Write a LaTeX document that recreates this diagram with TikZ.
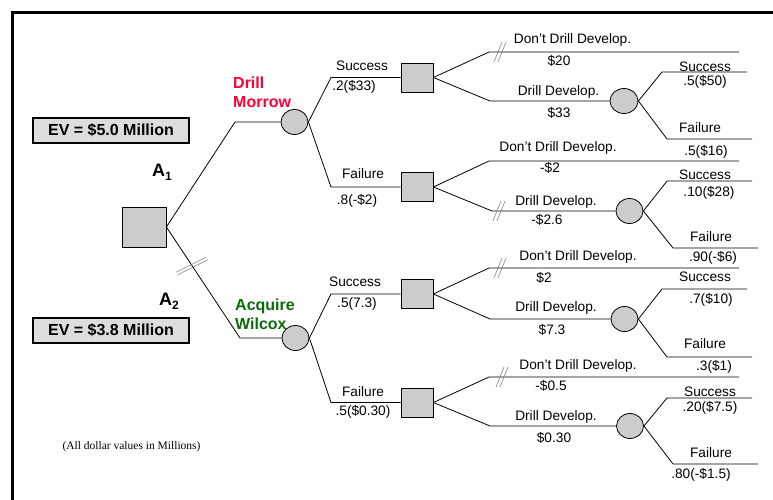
\documentclass[tikz,border=0pt]{standalone}
\usepackage{fontspec}
\setmainfont{Liberation Sans}
\newfontfamily\notefont{Liberation Serif}
\usetikzlibrary{shapes.geometric}
\definecolor{nodegray}{HTML}{CCCCCC}
\definecolor{boxgray}{HTML}{DDDDDD}
\definecolor{drillred}{HTML}{FF0033}
\definecolor{acqgreen}{HTML}{0B6B0B}
\begin{document}
\begin{tikzpicture}[x=1pt,y=-1pt,
 dec/.style={draw,fill=nodegray,line width=0.8pt,minimum width=32pt,minimum height=29pt,inner sep=0},
 chance/.style={ellipse,draw,fill=nodegray,line width=0.8pt,minimum width=27pt,minimum height=25pt,inner sep=0},
 br/.style={line width=0.8pt},
 lbl/.style={font=\fontsize{13.7}{15}\selectfont,inner sep=0},
 ev/.style={draw,line width=2pt,fill=boxgray,minimum width=156pt,minimum height=25pt,font=\bfseries\fontsize{16}{18}\selectfont,inner sep=0},
 alt/.style={font=\bfseries\fontsize{16}{19}\selectfont,align=left,inner sep=0},
 anode/.style={font=\bfseries\fontsize{18}{20}\selectfont,inner sep=0},
 brk/.pic={\draw[gray,line width=0.6pt] (-6,10) -- (2,-10) (-2,10) -- (6,-10);}
]
\useasboundingbox (0,0) rectangle (773,500);
% frame
\draw[line width=3.3pt] (12.6,500) -- (12.6,12.3) -- (773,12.3);

% EV boxes and labels
\node[ev] (ev1) at (111,130.5) {EV = \$5.0 Million};
\node[ev] (ev2) at (111,330) {EV = \$3.8 Million};
\node[anode] (a1) at (162,172) {A\raisebox{-0.45ex}{\fontsize{12}{12}\selectfont 1}};
\node[anode] (a2) at (169,301) {A\raisebox{-0.45ex}{\fontsize{12}{12}\selectfont 2}};
\node[alt,text=drillred,anchor=north west] (dm) at (233,77) {Drill\\Morrow};
\node[alt,text=acqgreen,anchor=north west] (aw) at (235,299) {Acquire\\Wilcox};
\node[font=\notefont\fontsize{11.5}{13}\selectfont,inner sep=0] (note) at (131.5,447) {(All dollar values in Millions)};

% nodes
\node[dec,minimum width=44pt,minimum height=40pt] (root) at (144,227) {};
\node[chance] (c1) at (294.5,122) {};
\node[chance] (c2) at (295.5,338) {};
\node[dec] (d1) at (417,77.5) {};
\node[dec] (d2) at (417,187) {};
\node[dec] (d3) at (417,294) {};
\node[dec] (d4) at (417,402.5) {};
\node[chance,minimum width=28pt] (c3) at (624,101) {};
\node[chance] (c4) at (629.5,211) {};
\node[chance] (c5) at (624.5,319) {};
\node[chance] (c6) at (630,426) {};

% elbow and end coordinates
\coordinate (e1) at (235,122);
\coordinate (e2) at (240,338);
\coordinate (s1) at (331,77.5);
\coordinate (f1) at (331,187);
\coordinate (s2) at (331,294);
\coordinate (f2) at (331,402.5);
\coordinate (k1) at (489,52);  \coordinate (t1) at (739,52);
\coordinate (k2) at (490,101);
\coordinate (k3) at (662,72);  \coordinate (t3) at (747,72);
\coordinate (k4) at (667,139); \coordinate (t4) at (752,139);
\coordinate (k5) at (489,161); \coordinate (t5) at (739,161);
\coordinate (k6) at (492,211);
\coordinate (k7) at (667,181); \coordinate (t7) at (752,181);
\coordinate (k8) at (673,248); \coordinate (t8) at (758,248);
\coordinate (k9) at (489,268); \coordinate (t9) at (739,268);
\coordinate (k10) at (490,319);
\coordinate (k11) at (662,289); \coordinate (t11) at (747,289);
\coordinate (k12) at (667,357); \coordinate (t12) at (752,357);
\coordinate (k13) at (489,377); \coordinate (t13) at (739,377);
\coordinate (k14) at (490,426);
\coordinate (k15) at (667,398); \coordinate (t15) at (752,398);
\coordinate (k16) at (673,464); \coordinate (t16) at (758,464);

% connectors
\draw[br] (root.east) -- (e1) -- (c1.west);
\draw[br] (root.east) -- (e2) -- (c2.west);
\draw[br] (c1.east) -- (s1) -- (d1.west);
\draw[br] (c1.east) -- (f1) -- (d2.west);
\draw[br] (c2.east) -- (s2) -- (d3.west);
\draw[br] (c2.east) -- (f2) -- (d4.west);
\draw[br] (d1.east) -- (k1) -- (t1);
\draw[br] (d1.east) -- (k2) -- (c3.west);
\draw[br] (c3.east) -- (k3) -- (t3);
\draw[br] (c3.east) -- (k4) -- (t4);
\draw[br] (d2.east) -- (k5) -- (t5);
\draw[br] (d2.east) -- (k6) -- (c4.west);
\draw[br] (c4.east) -- (k7) -- (t7);
\draw[br] (c4.east) -- (k8) -- (t8);
\draw[br] (d3.east) -- (k9) -- (t9);
\draw[br] (d3.east) -- (k10) -- (c5.west);
\draw[br] (c5.east) -- (k11) -- (t11);
\draw[br] (c5.east) -- (k12) -- (t12);
\draw[br] (d4.east) -- (k13) -- (t13);
\draw[br] (d4.east) -- (k14) -- (c6.west);
\draw[br] (c6.east) -- (k15) -- (t15);
\draw[br] (c6.east) -- (k16) -- (t16);

% pruned-branch marks
\draw[gray,line width=0.6pt] (177.7,274.8) -- (207.7,259.8) (176.3,272.2) -- (206.3,257.2);
\pic at (500,52) {brk};
\pic at (499,211) {brk};
\pic at (500,268) {brk};
\pic at (502,377) {brk};

% labels
\node[lbl] at (362,66) {Success};
\node[lbl] at (354,87) {.2(\$33)};
\node[lbl] at (363,174) {Failure};
\node[lbl] at (357,201) {.8(-\$2)};
\node[lbl] at (355,282) {Success};
\node[lbl] at (357,304) {.5(7.3)};
\node[lbl] at (363,392) {Failure};
\node[lbl] at (363,412) {.5(\$0.30)};

\node[lbl] at (572.5,40) {Don't Drill Develop.};
\node[lbl] at (559,61) {\$20};
\node[lbl] at (558.5,92) {Drill Develop.};
\node[lbl] at (559,113) {\$33};
\node[lbl] at (705,67) {Success};
\node[lbl] at (705,82) {.5(\$50)};
\node[lbl] at (700,128) {Failure};
\node[lbl] at (706,152) {.5(\$16)};

\node[lbl] at (558,148) {Don't Drill Develop.};
\node[lbl] at (550,168) {-\$2};
\node[lbl] at (556,202) {Drill Develop.};
\node[lbl] at (547,220) {-\$2.6};
\node[lbl] at (705,175) {Success};
\node[lbl] at (709,193) {.10(\$28)};
\node[lbl] at (711,237) {Failure};
\node[lbl] at (713,258) {.90(-\$6)};

\node[lbl] at (578,257) {Don't Drill Develop.};
\node[lbl] at (544,278) {\$2};
\node[lbl] at (556,308) {Drill Develop.};
\node[lbl] at (552,330) {\$7.3};
\node[lbl] at (705,277) {Success};
\node[lbl] at (711,300) {.7(\$10)};
\node[lbl] at (705,344) {Failure};
\node[lbl] at (714,367) {.3(\$1)};

\node[lbl] at (578,366) {Don't Drill Develop.};
\node[lbl] at (551,386) {-\$0.5};
\node[lbl] at (556,417) {Drill Develop.};
\node[lbl] at (554,438) {\$0.30};
\node[lbl] at (710,392) {Success};
\node[lbl] at (710,408) {.20(\$7.5)};
\node[lbl] at (711,453) {Failure};
\node[lbl] at (701,475) {.80(-\$1.5)};
\end{tikzpicture}
\end{document}
